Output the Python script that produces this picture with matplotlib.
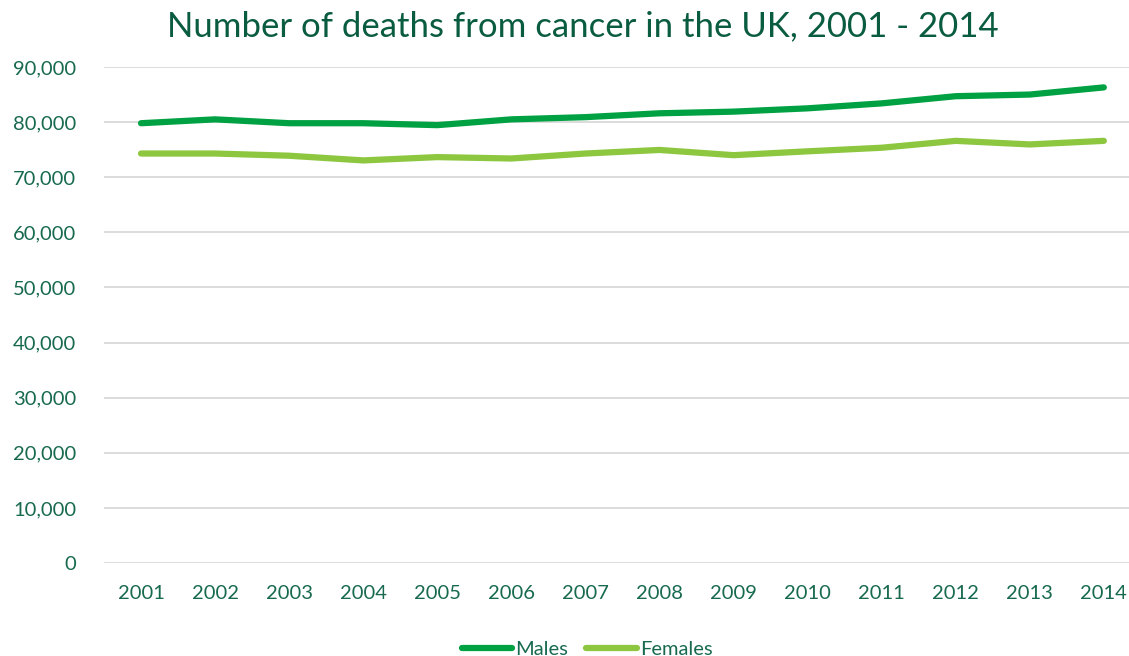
import matplotlib.pyplot as plt
from matplotlib.ticker import FuncFormatter

# Data
years = ["2001", "2002", "2003", "2004", "2005", "2006", "2007",
         "2008", "2009", "2010", "2011", "2012", "2013", "2014"]
males = [79800, 80500, 79800, 79800, 79450, 80500, 80900,
         81600, 81900, 82500, 83400, 84700, 85000, 86300]
females = [74300, 74300, 73900, 73050, 73650, 73400, 74300,
           74950, 74000, 74700, 75350, 76600, 75950, 76600]

text_col = "#17694F"
title_col = "#0A5C40"

fig = plt.figure(figsize=(11.29, 6.56), dpi=100)
ax = fig.add_axes([104 / 1129, 1 - 563 / 656, 1 - 104 / 1129, (563 - 67) / 656])

x = range(len(years))
ax.plot(x, males, color="#00A142", lw=4.5, solid_capstyle="round", label="Males")
ax.plot(x, females, color="#8DC63F", lw=4.5, solid_capstyle="round", label="Females")

ax.set_ylim(0, 90000)
ax.set_yticks(range(0, 90001, 10000))
ax.yaxis.set_major_formatter(FuncFormatter(lambda v, p: f"{int(v):,}"))
ax.set_xlim(-0.5, 13.34)
ax.set_xticks(list(x))
ax.set_xticklabels(years)

ax.grid(axis="y", color="#D9D9D9", lw=1.3)
ax.set_axisbelow(True)
for s in ax.spines.values():
    s.set_visible(False)
ax.tick_params(length=0, labelsize=14.5, labelcolor=text_col, pad=16)
ax.tick_params(axis="y", pad=20)
for lbl in ax.get_xticklabels() + ax.get_yticklabels():
    lbl.set_family("Lato")

fig.suptitle("Number of deaths from cancer in the UK, 2001 - 2014", x=0.516, y=0.985,
             fontsize=25, color=title_col, family="Lato")

leg = fig.legend(loc="lower center", bbox_to_anchor=(0.52, -0.03), ncol=2, frameon=False,
                 handlelength=2.5, handletextpad=0.15, columnspacing=0.9,
                 prop={"family": "Lato", "size": 14.5})
for t in leg.get_texts():
    t.set_color(text_col)

fig.savefig("out.png", dpi=100)
